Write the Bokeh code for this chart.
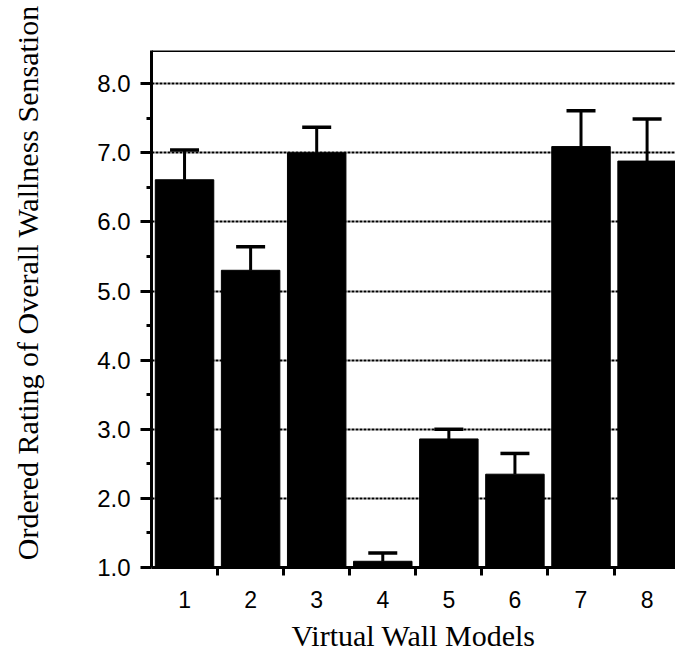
from bokeh.plotting import figure
from bokeh.models import (ColumnDataSource, Whisker, TeeHead, FixedTicker, Span,
                          PrintfTickFormatter, Range1d)
from bokeh.embed import file_html
from bokeh.resources import INLINE

models = [1, 2, 3, 4, 5, 6, 7, 8]
means = [6.61, 5.30, 7.00, 1.09, 2.86, 2.35, 7.09, 6.88]
upper = [7.04, 5.64, 7.37, 1.21, 3.00, 2.65, 7.61, 7.49]
y_ticks = [1, 2, 3, 4, 5, 6, 7, 8]
grid_ticks = [2, 3, 4, 5, 6, 7, 8]
x_title = "Virtual Wall Models"
y_title = "Ordered Rating of Overall Wallness Sensation"

src = ColumnDataSource(dict(x=models, top=means, upper=upper))

p = figure(width=675, height=655, output_backend="svg", toolbar_location=None,
           x_range=Range1d(0.5, 8.43), y_range=Range1d(1.0, 8.48),
           min_border_left=151, min_border_right=0, min_border_top=50, min_border_bottom=88)
p.outline_line_color = None
p.background_fill_color = "white"

# grid (dotted) under bars
p.xgrid.grid_line_color = None
p.ygrid.ticker = FixedTicker(ticks=grid_ticks)
p.ygrid.grid_line_color = "black"
p.ygrid.grid_line_dash = "3 1"
p.ygrid.grid_line_width = 2

p.vbar(x="x", top="top", bottom=1.0, width=0.885, source=src,
       fill_color="black", line_color="black")

w = Whisker(source=src, base="x", lower="top", upper="upper",
            line_color="black", line_width=3,
            upper_head=TeeHead(size=29, line_color="black", line_width=3.5),
            lower_head=None)
p.add_layout(w)

# top border
p.add_layout(Span(location=8.48, dimension="width", line_color="black", line_width=3))

# y axis
ya = p.yaxis[0]
ya.ticker = FixedTicker(ticks=y_ticks, minor_ticks=[1.5, 2.5, 3.5, 4.5, 5.5, 6.5, 7.5])
ya.formatter = PrintfTickFormatter(format="%.1f")
ya.axis_line_width = 3
ya.major_tick_out = 11
ya.major_tick_in = 0
ya.major_tick_line_width = 3
ya.minor_tick_out = 5
ya.minor_tick_in = 0
ya.minor_tick_line_width = 3
ya.major_label_text_font = "Liberation Sans"
ya.major_label_text_font_size = "24px"
ya.major_label_text_color = "black"
ya.major_label_standoff = 10
ya.axis_label = "\u00a0" * 7 + y_title
ya.axis_label_text_font = "Liberation Serif"
ya.axis_label_text_font_size = "30px"
ya.axis_label_text_font_style = "normal"
ya.axis_label_text_color = "black"
ya.axis_label_standoff = 50

# x axis
xa = p.xaxis[0]
xa.ticker = FixedTicker(ticks=models, minor_ticks=[1.5, 2.5, 3.5, 4.5, 5.5, 6.5, 7.5])
xa.axis_line_width = 3
xa.major_tick_line_color = None
xa.major_tick_out = 8
xa.major_tick_in = 0
xa.minor_tick_out = 8
xa.minor_tick_in = 0
xa.minor_tick_line_width = 3
xa.major_label_text_font = "Liberation Sans"
xa.major_label_text_font_size = "23px"
xa.major_label_text_color = "black"
xa.major_label_standoff = 15
xa.axis_label = x_title
xa.axis_label_text_font = "Liberation Serif"
xa.axis_label_text_font_size = "30px"
xa.axis_label_text_font_style = "normal"
xa.axis_label_text_color = "black"
xa.axis_label_standoff = 8

open("out.html", "w").write(file_html(p, INLINE))
